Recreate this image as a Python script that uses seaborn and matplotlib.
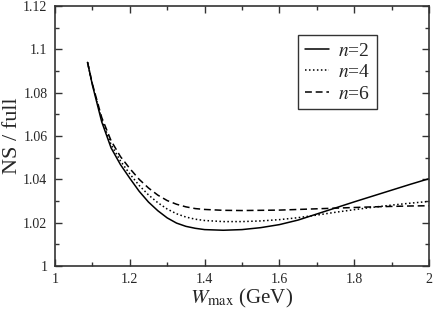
import numpy as np
import pandas as pd
import matplotlib
matplotlib.use("Agg")
import matplotlib.pyplot as plt
import seaborn as sns
from matplotlib.ticker import MultipleLocator

# --- Data ---
w_max = [1.087, 1.10, 1.125, 1.15, 1.175, 1.20, 1.225, 1.25, 1.275, 1.30,
         1.325, 1.35, 1.375, 1.40, 1.45, 1.50, 1.55, 1.60, 1.65, 1.70,
         1.75, 1.80, 1.85, 1.90, 1.95, 2.00]
ratio_n2 = [1.094, 1.0835, 1.0665, 1.0545, 1.0468, 1.0405, 1.0345, 1.0295, 1.0255, 1.0222,
            1.0198, 1.0183, 1.0174, 1.0168, 1.0165, 1.0168, 1.0177, 1.0191, 1.0212, 1.0240,
            1.0268, 1.0296, 1.0323, 1.0350, 1.0377, 1.0403]
ratio_n4 = [1.094, 1.0837, 1.0675, 1.0560, 1.0485, 1.0425, 1.0372, 1.0328, 1.0292, 1.0263,
            1.0241, 1.0226, 1.0216, 1.0210, 1.0205, 1.0205, 1.0208, 1.0214, 1.0223, 1.0235,
            1.0248, 1.0260, 1.0271, 1.0281, 1.0290, 1.0298]
ratio_n6 = [1.094, 1.0840, 1.0685, 1.0578, 1.0505, 1.0450, 1.0400, 1.0360, 1.0327, 1.0302,
            1.0285, 1.0273, 1.0265, 1.0261, 1.0257, 1.0256, 1.0257, 1.0258, 1.0261, 1.0264,
            1.0267, 1.0270, 1.0273, 1.0275, 1.0277, 1.0278]
labels = ["$n$=2", "$n$=4", "$n$=6"]

# --- Style ---
sns.set_style("ticks")
plt.rcParams["font.family"] = ["Liberation Serif", "DejaVu Serif"]
plt.rcParams["mathtext.fontset"] = "stix"

fig = plt.figure(figsize=(4.34, 3.16), dpi=100)
ax = fig.add_axes([55 / 434, 50 / 316, 374 / 434, 260 / 316])

styles = ["-", (0, (1, 1.6)), (0, (4.5, 2.5))]
for ys, lab, ls in zip([ratio_n2, ratio_n4, ratio_n6], labels, styles):
    sns.lineplot(x=w_max, y=ys, ax=ax, color="black", linewidth=1.1,
                 linestyle=ls, label=lab)

ax.set_xlim(1, 2)
ax.set_ylim(1, 1.12)
ax.xaxis.set_major_locator(MultipleLocator(0.2))
ax.xaxis.set_minor_locator(MultipleLocator(0.1))
ax.yaxis.set_major_locator(MultipleLocator(0.02))
ax.yaxis.set_minor_locator(MultipleLocator(0.01))
ax.xaxis.set_major_formatter(plt.FuncFormatter(lambda v, p: f"{v:g}"))
ax.yaxis.set_major_formatter(plt.FuncFormatter(lambda v, p: f"{v:g}"))
ax.tick_params(which="both", direction="in", top=True, right=True,
               labelsize=10, color="#333333", width=1.0)
ax.tick_params(which="major", length=5)
ax.tick_params(axis="y", which="major", pad=5.5)
ax.tick_params(axis="x", which="major", pad=5)
ax.tick_params(which="minor", length=3)
for s in ax.spines.values():
    s.set_linewidth(1.2)
    s.set_color("#333333")

ax.set_xlabel("$W_{\\rm max}$ (GeV)", fontsize=15, labelpad=1)
ax.set_ylabel("NS / full", fontsize=16)
ax.yaxis.set_label_coords(-0.088, 0.5)

leg = ax.legend(loc="upper left", bbox_to_anchor=(0.65, 0.888), fontsize=14,
                frameon=True, fancybox=False, edgecolor="black",
                handlelength=1.25, borderaxespad=0, labelspacing=0.2,
                borderpad=0.35, handletextpad=0.45)
leg.get_frame().set_linewidth(1.0)

fig.savefig("out.png", dpi=100)
